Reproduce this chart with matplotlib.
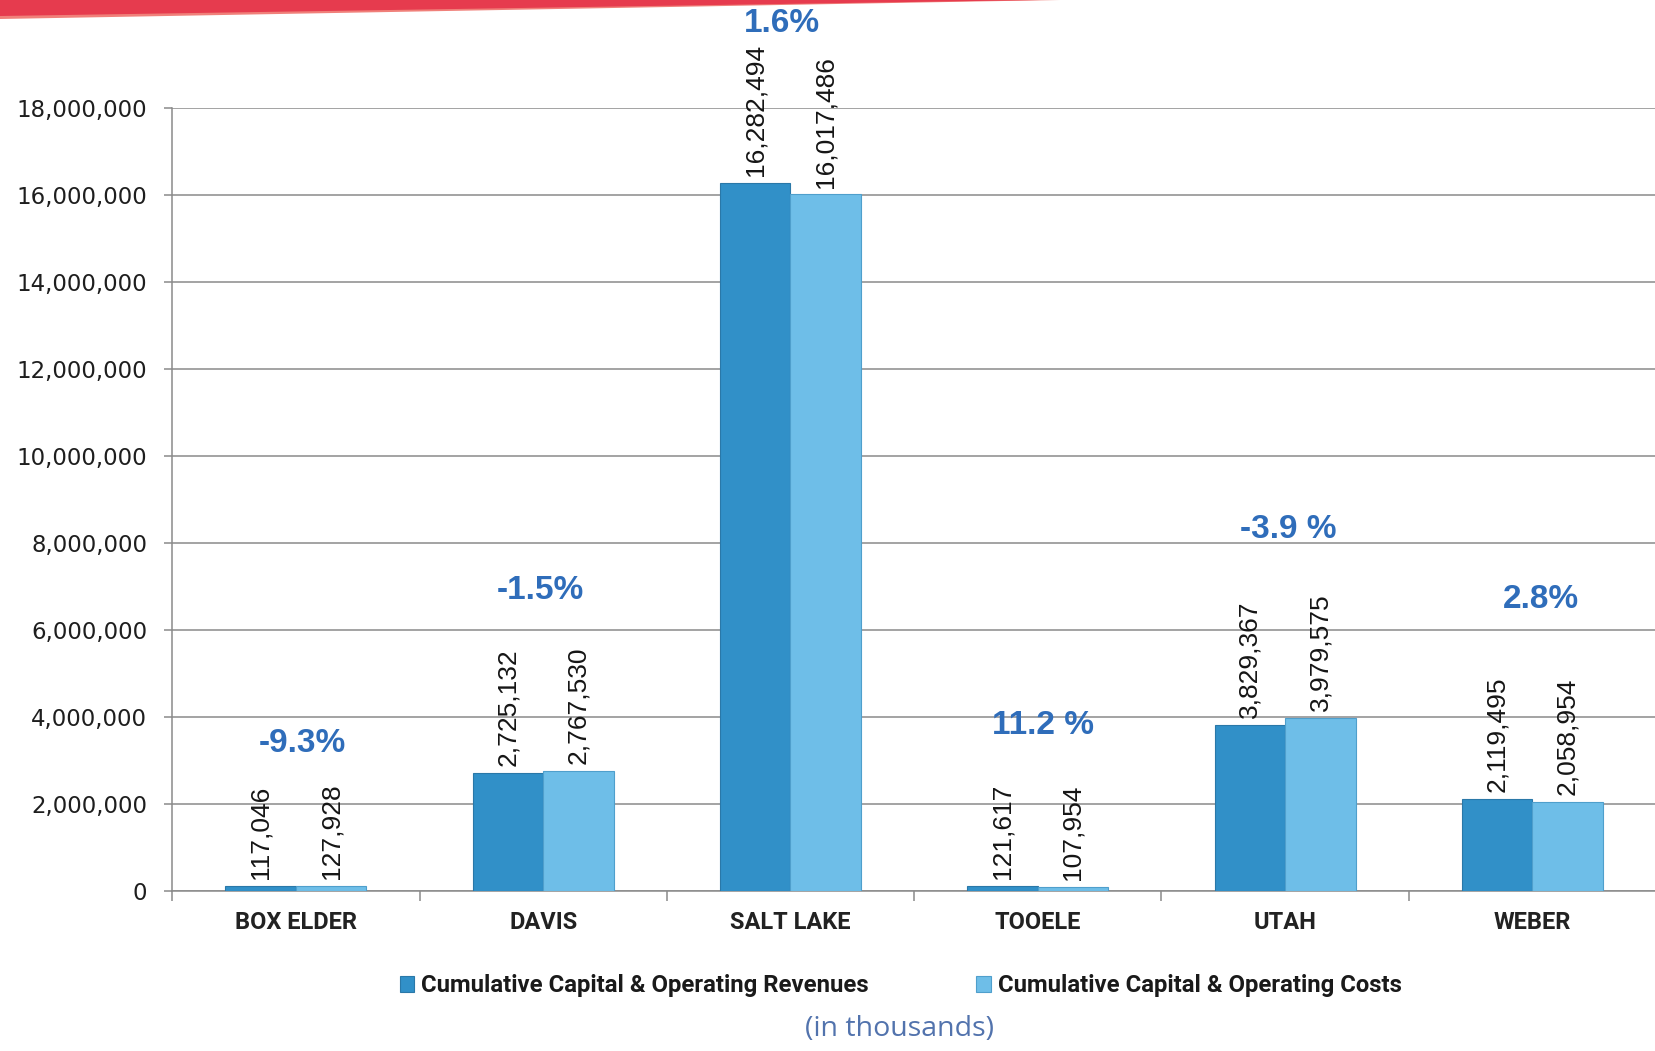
import matplotlib
matplotlib.use("Agg")
import matplotlib.pyplot as plt
import numpy as np
from matplotlib.patches import Polygon
from matplotlib.ticker import FuncFormatter

# --- data -------------------------------------------------------------
counties = ["BOX ELDER", "DAVIS", "SALT LAKE", "TOOELE", "UTAH", "WEBER"]
revenues = [117046, 2725132, 16282494, 121617, 3829367, 2119495]
costs = [127928, 2767530, 16017486, 107954, 3979575, 2058954]
change_labels = ["-9.3%", "-1.5%", "1.6%", "11.2 %", "-3.9 %", "2.8%"]
y_ticks = [0, 2000000, 4000000, 6000000, 8000000, 10000000,
           12000000, 14000000, 16000000, 18000000]
series_names = ["Cumulative Capital & Operating Revenues",
                "Cumulative Capital & Operating Costs"]
unit_note = "(in thousands)"

# --- style ------------------------------------------------------------
DARK = "#3190C8"
LIGHT = "#6EBEE8"
PCT_BLUE = "#2F6DBA"
GRID = "#8a8a8a"
HEAD = ["Roboto", "DejaVu Sans"]
ARIAL = ["Liberation Sans", "DejaVu Sans"]

fig = plt.figure(figsize=(16.56, 10.51), dpi=100)
fig.patch.set_facecolor("white")
ax = fig.add_axes([0.104, 0.152, 0.896, 0.745])

x = np.arange(len(counties))
w = 0.285
b1 = ax.bar(x - w / 2, revenues, w, color=DARK, edgecolor="#2a78a8",
            linewidth=0.8, zorder=3, label=series_names[0])
b2 = ax.bar(x + w / 2, costs, w, color=LIGHT, edgecolor="#4f9fcc",
            linewidth=0.8, zorder=3, label=series_names[1])

# value labels above each bar
for bars, vals in ((b1, revenues), (b2, costs)):
    for rect, v in zip(bars, vals):
        ax.annotate(f"{v:,}", (rect.get_x() + rect.get_width() / 2, v),
                    xytext=(0, 5), textcoords="offset points",
                    rotation=90, ha="center", va="bottom",
                    fontsize=19, family=ARIAL,
                    color="#151515", annotation_clip=False, zorder=4)

# percentage change placed above each county group
change_y = [3390000, 6910000, 19950000, 3800000, 8310000, 6710000]
change_dx = [0.026, -0.01, -0.034, 0.02, 0.012, 0.034]
for xi, lab, yy, dx in zip(x, change_labels, change_y, change_dx):
    ax.text(xi + dx, yy, lab, ha="center", va="center", fontsize=24,
            fontweight="bold", color=PCT_BLUE, family=ARIAL,
            clip_on=False, zorder=5)

ax.set_xlim(-0.5, len(counties) - 0.5)
ax.set_ylim(0, 18000000)
ax.set_yticks(y_ticks)
ax.yaxis.set_major_formatter(FuncFormatter(lambda v, p: f"{int(v):,}"))
ax.yaxis.grid(True, color=GRID, linewidth=1.1, zorder=0)
ax.set_axisbelow(True)

ax.set_xticks(x)
ax.set_xticklabels(counties, fontsize=17, fontweight="bold", family=HEAD,
                   color="#222222")
ax.set_xticks(np.arange(len(counties) + 1) - 0.5, minor=True)
ax.tick_params(axis="x", which="major", length=0, pad=14)
ax.tick_params(axis="x", which="minor", length=7, color=GRID, width=1.1)
ax.tick_params(axis="y", length=6, color=GRID, width=1.1, pad=12,
               labelsize=16.5, labelcolor="#1e1e1e")
for lbl in ax.get_yticklabels():
    lbl.set_family(["DejaVu Sans"])

for side in ("top", "right"):
    ax.spines[side].set_visible(False)
for side in ("left", "bottom"):
    ax.spines[side].set_color(GRID)
    ax.spines[side].set_linewidth(1.1)

leg = fig.legend(handles=[b1, b2], loc="center", bbox_to_anchor=(0.544, 0.062),
                 ncol=2, frameon=False, handlelength=0.6, handleheight=0.6,
                 handletextpad=0.3, columnspacing=4.5,
                 prop={"family": HEAD, "weight": "bold", "size": 17.2})
for t in leg.get_texts():
    t.set_color("#1a1a1a")

fig.text(0.543, 0.021, unit_note, ha="center", va="center", fontsize=20.5,
         color="#5273ad", family=["Open Sans", "DejaVu Sans"])

# red ribbon across the top edge
fig.patches.append(Polygon([(0, 1), (0, 1 - 19 / 1051), (1060 / 1656, 1)],
                           closed=True, transform=fig.transFigure,
                           facecolor="#F0807A", edgecolor="none"))
fig.patches.append(Polygon([(0, 1), (0, 1 - 16 / 1051), (1040 / 1656, 1)],
                           closed=True, transform=fig.transFigure,
                           facecolor="#E63B4E", edgecolor="none"))

fig.savefig("out.png", dpi=100, facecolor="white")
